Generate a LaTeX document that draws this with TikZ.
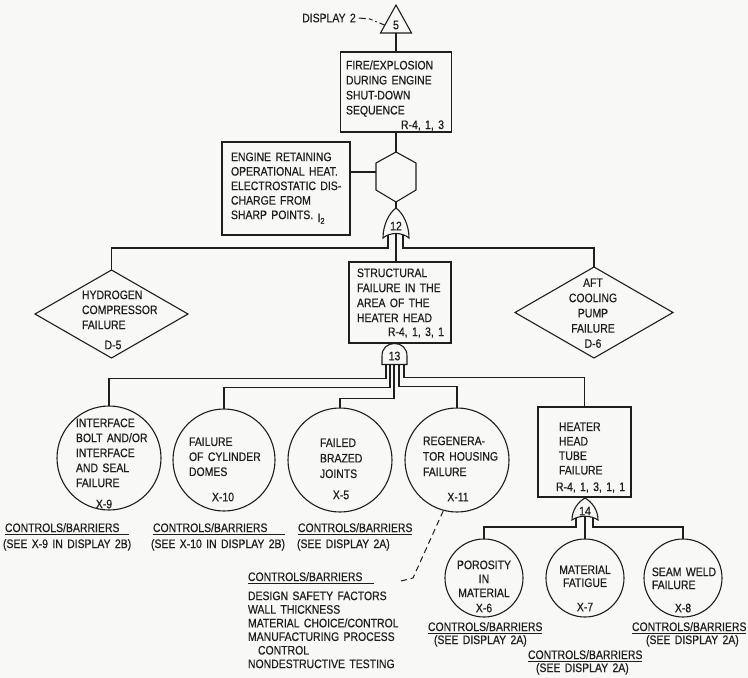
\documentclass[tikz,border=0pt]{standalone}
\usepackage{fontspec}
\setmainfont{Liberation Sans}[FakeStretch=0.85,WordSpace=1.5,FakeBold=0.5]
\usetikzlibrary{calc}
\definecolor{ink}{HTML}{1E1E1E}
\definecolor{paper}{HTML}{F8F8F6}
\newcommand{\fsz}[1]{\fontsize{12.3}{#1}\selectfont}
\begin{document}
\begin{tikzpicture}[x=1pt,y=-1pt,line width=1.1pt,
  every node/.style={inner sep=0pt,outer sep=0pt,text=ink},
  lbl/.style={font={\fsz{15}}},
  txt/.style={font={\fsz{15}},align=left,anchor=north west},
  ctxt/.style={font={\fsz{15}},align=center,anchor=north},
  ghost/.style={rectangle,inner sep=0pt},
  box/.style={rectangle,draw=ink,inner sep=0pt},
  evt/.style={circle,draw=ink,inner sep=0pt},
  wire/.style={draw=ink,line width=1.1pt},
  leader/.style={draw=ink,line width=1pt,dash pattern=on 6pt off 4pt},
  uline/.style={draw=ink,line width=0.9pt}
]
\fill[paper] (0,0) rectangle (748,678);
\useasboundingbox (0,0) rectangle (748,678);

% ---- top triangle and display reference
\node[ghost,minimum width=31pt,minimum height=28pt] (t5) at (396,19) {};
\draw[wire] (t5.north) -- (t5.south east) -- (t5.south west) -- cycle;
\node[lbl] (n5) at (396,25) {5};
\node[lbl] (disp) at (329,18) {DISPLAY 2};
\coordinate (t5l) at ($(t5.north)!0.72!(t5.south west)$);
\draw[draw=ink,line width=1pt,dash pattern=on 7pt off 3pt on 4pt off 3pt on 1.5pt off 3pt] ([xshift=3pt]disp.east) -- ++(11,1) -- (t5l);

% ---- fire box
\node[box,minimum width=111pt,minimum height=80pt] (fire) at (396,92) {};
\node[txt] (firet) at (346,60.5) {FIRE/EXPLOSION\\DURING ENGINE\\SHUT-DOWN\\SEQUENCE};
\node[lbl,anchor=base east] (firer) at (444,129) {R-4, 1, 3};
\draw[wire] (t5.south) -- (fire.north);

% ---- hexagon (inhibit)
\node[ghost,minimum width=40pt,minimum height=50pt] (hex) at (396,177) {};
\draw[wire] (hex.north) -- ++(20,11) -- ++(0,27) -- (hex.south) -- ++(-20,-12) -- ++(0,-27) -- cycle;
\draw[wire] (fire.south) -- (hex.north);

% ---- engine condition box
\node[box,minimum width=128pt,minimum height=93pt] (eng) at (286,188.5) {};
\node[txt,font={\fsz{14.5}}] (engt) at (231,152.5) {ENGINE RETAINING\\OPERATIONAL HEAT.\\ELECTROSTATIC DIS-\\CHARGE FROM\\SHARP POINTS. \raisebox{-3pt}{I\textsubscript{2}}};
\draw[wire] ($(hex.west)+(0,-5)$) -- ($(hex.west -| eng.east)+(0,-5)$);

% ---- gate 12 (OR)
\node[ghost,minimum width=26pt,minimum height=30pt] (g12) at (396,223) {};
\draw[wire,shift={(g12.center)}] (-13,15) .. controls (-13,2) and (-7,-10) .. (0,-15) .. controls (7,-10) and (13,2) .. (13,15) .. controls (6,9) and (-6,9) .. (-13,15) -- cycle;
\node[lbl] (n12) at (396,226) {12};
\draw[wire] (hex.south) -- (g12.north);

% ---- structural failure box
\node[box,minimum width=102pt,minimum height=81pt] (st) at (400,302.5) {};
\node[txt] (stt) at (357,268.5) {STRUCTURAL\\FAILURE IN THE\\AREA OF THE\\HEATER HEAD};
\node[lbl,anchor=base east] (str) at (444,336) {R-4, 1, 3, 1};
\draw[wire] ([yshift=4.5pt]g12.south) -- (g12.south |- st.north);

% ---- diamonds
\node[ghost,minimum width=153pt,minimum height=88pt] (d5) at (111.5,314) {};
\draw[wire] (d5.north) -- (d5.east) -- (d5.south) -- (d5.west) -- cycle;
\node[txt] (d5t) at (82,290.5) {HYDROGEN\\COMPRESSOR\\FAILURE};
\node[lbl] (d5c) at (113,345) {D-5};
\draw[wire] ([xshift=-8pt,yshift=3pt]g12.south) -- ++(0,13) -| (d5.north);

\node[ghost,minimum width=158pt,minimum height=91pt] (d6) at (594,312.5) {};
\draw[wire] (d6.north) -- (d6.east) -- (d6.south) -- (d6.west) -- cycle;
\node[ctxt,font={\fsz{15.2}}] (d6t) at (593,278.5) {AFT\\COOLING\\PUMP\\FAILURE\\D-6};
\draw[wire] ([xshift=7pt,yshift=3pt]g12.south) -- ++(0,13) -| (d6.north);

% ---- gate 13 (AND)
\node[ghost,minimum width=25pt,minimum height=21pt] (g13) at (394.5,354) {};
\draw[wire,shift={(g13.center)}] (-12.5,10.5) -- (-12.5,2) .. controls (-12.5,-6) and (-7,-10.5) .. (0,-10.5) .. controls (7,-10.5) and (12.5,-6) .. (12.5,2) -- (12.5,10.5) -- cycle;
\node[lbl] (n13) at (394.5,356) {13};
\draw[wire] (g13.north) -- (g13.north |- st.south);

% ---- middle row events
\node[evt,minimum size=104pt] (c1) at (109,458) {};
\node[txt] (c1t) at (76,418.5) {INTERFACE\\BOLT AND/OR\\INTERFACE\\AND SEAL\\FAILURE};
\node[lbl] (c1c) at (104,504) {X-9};

\node[evt,minimum size=102pt] (c2) at (224,460) {};
\node[txt] (c2t) at (189,437.5) {FAILURE\\OF CYLINDER\\DOMES};
\node[lbl] (c2c) at (223,497) {X-10};

\node[evt,minimum size=104pt] (c3) at (340,460) {};
\node[txt,font={\fsz{15.5}}] (c3t) at (320,438.5) {FAILED\\BRAZED\\JOINTS};
\node[lbl] (c3c) at (341,495) {X-5};

\node[evt,minimum size=104pt] (c4) at (457,460) {};
\node[txt,font={\fsz{15.5}}] (c4t) at (423,436.5) {REGENERA-\\TOR HOUSING\\FAILURE};
\node[lbl] (c4c) at (458,497) {X-11};

\node[box,minimum width=93pt,minimum height=90pt] (hb) at (584.5,452) {};
\node[txt,font={\fsz{14.5}}] (hbt) at (559,422.5) {HEATER\\HEAD\\TUBE\\FAILURE};
\node[lbl,anchor=base west] (hbr) at (556,491) {R-4, 1, 3, 1, 1};

\draw[wire] ([xshift=-8.5pt]g13.south) -- ++(0,14) -| (c1.north);
\draw[wire] ([xshift=-4.5pt]g13.south) -- ++(0,23) -| (c2.north);
\draw[wire] ([xshift=-0.5pt]g13.south) -- ++(0,34) -| (c3.north);
\draw[wire] ([xshift=4.5pt]g13.south) -- ++(0,22) -| (c4.north);
\draw[wire] ([xshift=9.5pt]g13.south) -- ++(0,13) -| (hb.north);

% ---- gate 14 (OR)
\node[ghost,minimum width=26pt,minimum height=22pt] (g14) at (585,509) {};
\draw[wire,shift={(g14.center)}] (-13,11) .. controls (-13,1) and (-7,-7) .. (0,-11) .. controls (7,-7) and (13,1) .. (13,11) .. controls (6,6) and (-6,6) .. (-13,11) -- cycle;
\node[lbl] (n14) at (585,511) {14};
\draw[wire] (hb.south -| g14.north) -- (g14.north);

% ---- bottom row events
\node[evt,minimum size=78pt] (c6) at (484,578) {};
\node[ctxt,font={\fsz{14}}] (c6t) at (484,560.5) {POROSITY\\IN\\MATERIAL};
\node[lbl] (c6c) at (484,608) {X-6};

\node[evt,minimum size=78pt] (c7) at (585,578) {};
\node[ctxt,font={\fsz{13}}] (c7t) at (585,565.5) {MATERIAL\\FATIGUE};
\node[lbl] (c7c) at (585,607) {X-7};

\node[evt,minimum size=78pt] (c8) at (683,578) {};
\node[txt,font={\fsz{13}},anchor=north] (c8t) at (684,567.5) {SEAM WELD\\FAILURE};
\node[lbl] (c8c) at (683,608) {X-8};

\draw[wire] ([xshift=-9pt,yshift=2pt]g14.south) -- ++(0,9) -| (c6.north);
\draw[wire] ([yshift=3pt]g14.south) -- (g14.south |- c7.north);
\draw[wire] ([xshift=8pt,yshift=2pt]g14.south) -- ++(0,9) -| (c8.north);

% ---- controls / barriers labels
\node[lbl,anchor=base west] (k1) at (5,532) {CONTROLS/BARRIERS};
\node[lbl,anchor=base west] (k1s) at (3,548) {(SEE X-9 IN DISPLAY 2B)};
\draw[uline] ([yshift=-2.5pt]k1.base west) -- ([yshift=-2.5pt,xshift=10pt]k1.base east);

\node[lbl,anchor=base west] (k2) at (153,532) {CONTROLS/BARRIERS};
\node[lbl,anchor=base west] (k2s) at (151,548) {(SEE X-10 IN DISPLAY 2B)};
\draw[uline] ([yshift=-2.5pt]k2.base west) -- ([yshift=-2.5pt,xshift=18pt]k2.base east);

\node[lbl,anchor=base west] (k3) at (298,532) {CONTROLS/BARRIERS};
\node[lbl,anchor=base west] (k3s) at (297,548) {(SEE DISPLAY 2A)};
\draw[uline] ([yshift=-2.5pt]k3.base west) -- ([yshift=-2.5pt]k3.base east);

\node[lbl,anchor=base west] (k4) at (248,581) {CONTROLS/BARRIERS};
\draw[uline] ([yshift=-2.5pt]k4.base west) -- ([yshift=-2.5pt,xshift=12pt]k4.base east);
\node[txt,font={\fsz{13.6}}] (k4l) at (248,591.5) {DESIGN SAFETY FACTORS\\WALL THICKNESS\\MATERIAL CHOICE/CONTROL\\MANUFACTURING PROCESS\\\hspace*{10pt}CONTROL\\NONDESTRUCTIVE TESTING};
\coordinate (lk) at (401,581);
\draw[leader] (lk) -- ++(12,-3) -- (c4.-105);

\node[lbl,anchor=base west] (k6) at (428,631) {CONTROLS/BARRIERS};
\node[lbl,anchor=base west] (k6s) at (434,644) {(SEE DISPLAY 2A)};
\draw[uline] ([yshift=-2.5pt]k6.base west) -- ([yshift=-2.5pt]k6.base east);

\node[lbl,anchor=base west] (k7) at (528,659) {CONTROLS/BARRIERS};
\node[lbl,anchor=base west] (k7s) at (536,672) {(SEE DISPLAY 2A)};
\draw[uline] ([yshift=-2.5pt]k7.base west) -- ([yshift=-2.5pt]k7.base east);

\node[lbl,anchor=base west] (k8) at (632,631) {CONTROLS/BARRIERS};
\node[lbl,anchor=base west] (k8s) at (646,644) {(SEE DISPLAY 2A)};
\draw[uline] ([yshift=-2.5pt]k8.base west) -- ([yshift=-2.5pt]k8.base east);
\end{tikzpicture}
\end{document}
